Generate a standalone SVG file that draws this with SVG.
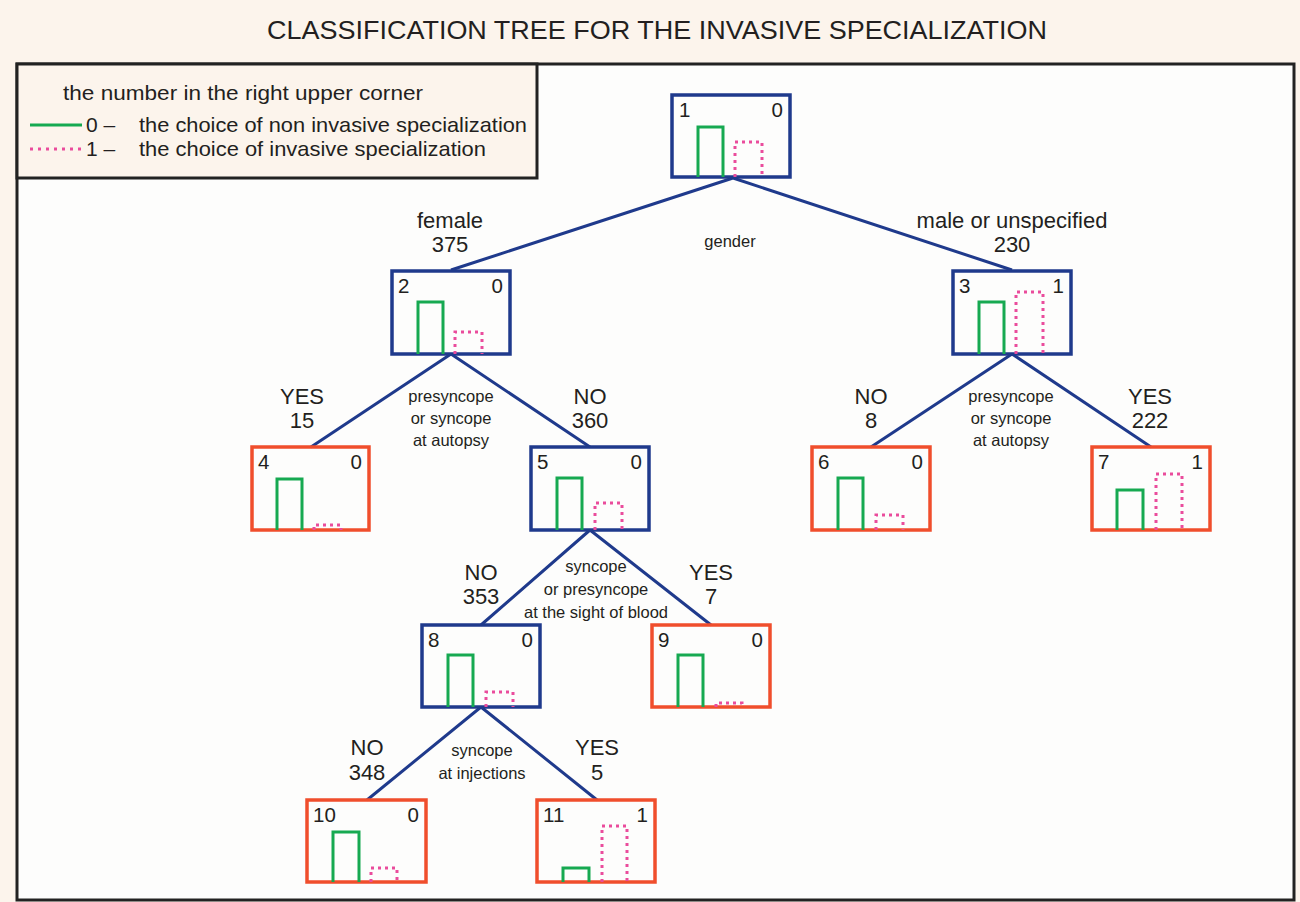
<svg xmlns="http://www.w3.org/2000/svg" width="1300" height="902" viewBox="0 0 1300 902">
<style>
text{font-family:"Liberation Sans",Arial,sans-serif;fill:#231f20}
.t{font-size:22px;text-anchor:middle}
.c{font-size:16.5px;text-anchor:middle}
.n{font-size:20.5px}
.r{text-anchor:end}
.lg{font-size:21px}
.bl{fill:none;stroke:#1f3a8c;stroke-width:3.5}
.or{fill:none;stroke:#f04e2c;stroke-width:3.5}
.g{fill:none;stroke:#16a951;stroke-width:3}
.p{fill:none;stroke:#ea4c9c;stroke-width:3;stroke-dasharray:3 4}
.e{stroke:#1f3a8c;stroke-width:3;fill:none}
</style>
<rect x="0" y="0" width="1300" height="902" fill="#fcf4ec"/>
<rect x="17" y="64" width="1277" height="836" fill="#fdfdfc" stroke="#222" stroke-width="3"/>
<text x="657" y="39" font-size="25" text-anchor="middle" textLength="780" lengthAdjust="spacingAndGlyphs">CLASSIFICATION TREE FOR THE INVASIVE SPECIALIZATION</text>
<g id="legend">
<rect x="17" y="64" width="520" height="114" fill="#fcf4ec" stroke="#222" stroke-width="3"/>
<text class="lg" x="63" y="100" textLength="360" lengthAdjust="spacingAndGlyphs">the number in the right upper corner</text>
<line x1="30" y1="125" x2="82" y2="125" stroke="#16a951" stroke-width="3"/>
<text class="lg" x="86" y="132">0 –</text>
<text class="lg" x="139" y="132" textLength="388" lengthAdjust="spacingAndGlyphs">the choice of non invasive specialization</text>
<line x1="30" y1="149" x2="82" y2="149" stroke="#ea4c9c" stroke-width="3" stroke-dasharray="3 5"/>
<text class="lg" x="86" y="156">1 –</text>
<text class="lg" x="139" y="156" textLength="347" lengthAdjust="spacingAndGlyphs">the choice of invasive specialization</text>
</g>
<g id="connectors">
<path class="e" d="M733 178L451 270M733 178L1012 270M451 354L311 447M451 354L590 447M1012 354L871 447M1012 354L1151 447M590 530L481 625M590 530L711 625M481 707L367 800M481 707L597 800"/>
</g>
<g id="labels">
<text class="t" x="450" y="228">female</text><text class="t" x="450" y="252">375</text>
<text class="c" x="730" y="247">gender</text>
<text class="t" x="1012" y="228">male or unspecified</text><text class="t" x="1012" y="252">230</text>
<text class="t" x="302" y="404">YES</text><text class="t" x="302" y="428">15</text>
<text class="c" x="451" y="402">presyncope</text><text class="c" x="451" y="424">or syncope</text><text class="c" x="451" y="446">at autopsy</text>
<text class="t" x="590" y="404">NO</text><text class="t" x="590" y="428">360</text>
<text class="t" x="871" y="404">NO</text><text class="t" x="871" y="428">8</text>
<text class="c" x="1011" y="402">presyncope</text><text class="c" x="1011" y="424">or syncope</text><text class="c" x="1011" y="446">at autopsy</text>
<text class="t" x="1150" y="404">YES</text><text class="t" x="1150" y="428">222</text>
<text class="t" x="481" y="580">NO</text><text class="t" x="481" y="604">353</text>
<text class="c" x="596" y="572">syncope</text><text class="c" x="596" y="595">or presyncope</text><text class="c" x="596" y="618" font-size="17">at the sight of blood</text>
<text class="t" x="711" y="580">YES</text><text class="t" x="711" y="604">7</text>
<text class="t" x="367" y="755">NO</text><text class="t" x="367" y="780">348</text>
<text class="c" x="482" y="756">syncope</text><text class="c" x="482" y="779">at injections</text>
<text class="t" x="597" y="755">YES</text><text class="t" x="597" y="780">5</text>
</g>
<g id="node1"><rect class="bl" x="672" y="95" width="118" height="82"/><text class="n" x="679" y="117">1</text><text class="n r" x="783" y="117">0</text><path class="g" d="M698 177V127H723V177"/><path class="p" d="M735 177V142H762V177"/></g>
<g id="node2"><rect class="bl" x="392" y="271" width="118" height="83"/><text class="n" x="398" y="293">2</text><text class="n r" x="503" y="293">0</text><path class="g" d="M418 354V302H443V354"/><path class="p" d="M455 354V332H482V354"/></g>
<g id="node3"><rect class="bl" x="953" y="271" width="118" height="83"/><text class="n" x="959" y="293">3</text><text class="n r" x="1064" y="293">1</text><path class="g" d="M979 354V302H1004V354"/><path class="p" d="M1016 354V292H1043V354"/></g>
<g id="node4"><rect class="or" x="252" y="447" width="117" height="83"/><text class="n" x="258" y="469">4</text><text class="n r" x="362" y="469">0</text><path class="g" d="M277 530V479H302V530"/><path class="p" d="M314 530V525H341V530"/></g>
<g id="node5"><rect class="bl" x="531" y="447" width="118" height="83"/><text class="n" x="537" y="469">5</text><text class="n r" x="642" y="469">0</text><path class="g" d="M557 530V478H582V530"/><path class="p" d="M595 530V503H622V530"/></g>
<g id="node6"><rect class="or" x="812" y="447" width="118" height="83"/><text class="n" x="818" y="469">6</text><text class="n r" x="923" y="469">0</text><path class="g" d="M838 530V478H863V530"/><path class="p" d="M876 530V515H903V530"/></g>
<g id="node7"><rect class="or" x="1092" y="447" width="118" height="83"/><text class="n" x="1098" y="469">7</text><text class="n r" x="1203" y="469">1</text><path class="g" d="M1117 530V490H1143V530"/><path class="p" d="M1156 530V474H1182V530"/></g>
<g id="node8"><rect class="bl" x="422" y="625" width="118" height="82"/><text class="n" x="428" y="647">8</text><text class="n r" x="533" y="647">0</text><path class="g" d="M448 707V655H473V707"/><path class="p" d="M486 707V692H513V707"/></g>
<g id="node9"><rect class="or" x="652" y="625" width="118" height="82"/><text class="n" x="658" y="647">9</text><text class="n r" x="763" y="647">0</text><path class="g" d="M678 707V655H703V707"/><path class="p" d="M716 707V703H742V707"/></g>
<g id="node10"><rect class="or" x="307" y="800" width="119" height="82"/><text class="n" x="313" y="822">10</text><text class="n r" x="419" y="822">0</text><path class="g" d="M333 882V832H359V882"/><path class="p" d="M371 882V868H397V882"/></g>
<g id="node11"><rect class="or" x="537" y="800" width="118" height="82"/><text class="n" x="543" y="822">11</text><text class="n r" x="648" y="822">1</text><path class="g" d="M563 882V868H589V882"/><path class="p" d="M602 882V826H627V882"/></g>
</svg>
